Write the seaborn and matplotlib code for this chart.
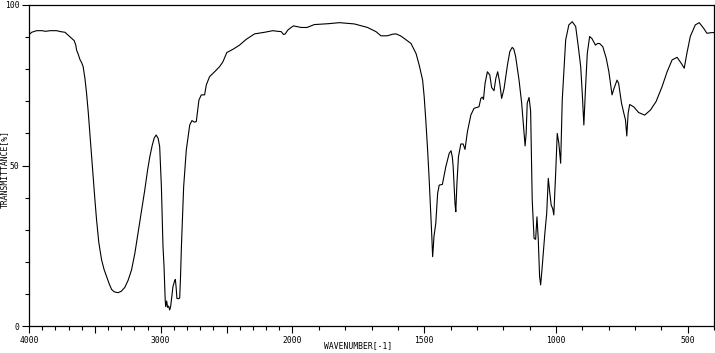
import numpy as np
import pandas as pd
import matplotlib
matplotlib.use("Agg")
import matplotlib.pyplot as plt
import seaborn as sns

# ---- data ----
wavenumber = [
    4000, 3980, 3942, 3900, 3875, 3840, 3790, 3760, 3727, 3689, 3657, 3645, 3639, 3625,
    3614, 3600, 3589, 3575, 3563, 3550, 3538, 3525, 3513, 3500, 3487, 3470, 3449, 3430,
    3411, 3390, 3373, 3355, 3340, 3323, 3300, 3273, 3248,
    3222, 3197, 3172, 3146, 3121, 3100, 3083, 3065, 3050, 3035, 3020, 3008, 2995, 2983, 2975, 2966, 2962, 2955,
    2948, 2940, 2932, 2925, 2907, 2895, 2889, 2883, 2877, 2866, 2856, 2850, 2843, 2826,
    2806, 2780, 2763, 2745, 2730, 2710, 2692, 2667, 2654, 2629, 2591, 2553, 2528, 2498,
    2452, 2402, 2351, 2288, 2212, 2149, 2111, 2085, 2068, 2055, 2035, 2010, 1996, 1967,
    1945, 1917, 1860, 1822, 1765, 1715, 1683, 1664, 1640, 1620, 1607, 1590, 1576, 1550,
    1531, 1519, 1506, 1500, 1494, 1487, 1481, 1475, 1471, 1468, 1465, 1463, 1456, 1449,
    1443, 1431, 1418, 1405, 1398, 1393, 1390, 1383, 1380, 1376, 1370, 1361, 1352, 1345,
    1336, 1323, 1311, 1292, 1285, 1280, 1275, 1269, 1260, 1251, 1244, 1235, 1228, 1221,
    1214, 1206, 1197, 1184, 1175, 1166, 1160, 1153, 1140, 1130, 1124, 1117, 1113, 1109,
    1102, 1096, 1090, 1083, 1077, 1072, 1067, 1062, 1058, 1052, 1042, 1035, 1029, 1024,
    1018, 1012, 1008, 1001, 995, 989, 982, 976, 970, 963, 951, 938, 925, 915, 906, 900,
    894, 888, 881, 872, 863, 850, 842, 834, 822, 809, 799, 793, 787, 780, 768, 762, 751,
    742, 736, 731, 726, 720, 705, 686, 663, 641, 620, 597, 578, 559, 540, 524, 513, 503,
    490, 471, 456, 439, 427, 408, 400,
]
transmittance = [
    90.7, 91.5, 92.0, 92.0, 91.8, 92.0, 92.0, 91.7, 91.5, 90.1, 88.9, 87.5, 86.0, 84.5,
    83.1, 82.0, 80.8, 77.0, 72.5, 66.5, 60.1, 53.2, 46.5, 39.5, 33.0, 26.0, 20.6, 17.6,
    15.4, 13.0, 11.4, 10.7, 10.5, 10.4, 10.8, 12.0, 14.2,
    17.4, 22.5, 28.9, 35.8, 42.4, 48.5, 52.7, 56.2, 58.5, 59.5, 58.5, 55.9, 43.4, 25.0, 18.6, 8.0, 6.0, 7.8,
    5.8, 6.2, 5.0, 6.0, 12.3, 14.0, 14.5, 12.0, 8.6, 8.5, 8.7, 15.0, 24.7, 43.4,
    54.8, 62.6, 64.0, 63.5, 63.7, 70.4, 72.0, 72.0, 75.1, 77.7, 79.2, 80.8, 82.3, 85.2,
    86.2, 87.5, 89.3, 91.0, 91.5, 92.0, 91.8, 91.7, 90.8, 91.0, 92.2, 93.0, 93.5, 93.0,
    93.0, 93.9, 94.2, 94.5, 94.1, 93.0, 91.7, 90.4, 90.4, 90.9, 91.0, 90.4, 89.6, 88.0,
    84.9, 81.3, 76.6, 71.4, 64.2, 54.8, 45.5, 35.1, 27.8, 21.6, 25.0, 27.8, 32.0, 41.3,
    43.9, 44.1, 49.6, 53.8, 54.6, 52.5, 49.6, 38.0, 35.6, 44.0, 52.7, 56.7, 56.7, 55.0,
    60.5, 65.7, 67.8, 68.3, 70.9, 71.3, 70.6, 75.6, 79.2, 78.2, 74.3, 73.3, 77.2, 79.2,
    76.1, 70.9, 73.9, 81.3, 85.5, 86.8, 86.3, 84.0, 76.6, 69.4, 63.1, 56.1, 60.0, 69.4,
    71.2, 67.0, 39.3, 27.3, 27.0, 34.0, 27.0, 15.4, 12.8, 18.5, 28.9, 35.1, 46.0, 42.0,
    37.7, 36.5, 34.6, 47.6, 60.0, 57.0, 50.7, 70.4, 79.2, 89.1, 93.8, 94.8, 93.3, 87.0, 80.8, 72.5,
    62.6, 73.5, 84.9, 90.2, 89.5, 87.5, 88.0, 88.0, 87.0, 83.4, 79.2, 75.6, 72.0, 73.9, 76.6, 75.6, 69.4,
    66.2, 64.2, 59.2, 66.2, 69.0, 68.3, 66.5, 65.7, 67.3, 69.9, 74.6, 79.2, 82.9, 83.7, 81.8, 80.3,
    84.9, 90.2, 93.8, 94.5, 92.7, 91.2, 91.4, 91.4,
]
x_major_ticks = [4000, 3500, 3000, 2500, 2000, 1500, 1000, 500]
x_tick_labels = ["4000", "", "3000", "", "2000", "1500", "1000", "500"]
y_major_ticks = [0, 50, 100]
y_tick_labels = ["0", "50", "100"]
x_title = "WAVENUMBER[-1]"
y_title = "TRANSMITTANCE[%]"

df = pd.DataFrame({"wavenumber": wavenumber, "transmittance": transmittance})

sns.set_style("ticks")
plt.rcParams["font.family"] = ["DejaVu Sans Mono", "DejaVu Sans"]


def fwd(x):
    x = np.asarray(x, dtype=float)
    return np.where(x >= 2000, x, 2 * x - 2000)


def inv(p):
    p = np.asarray(p, dtype=float)
    return np.where(p >= 2000, p, (p + 2000) / 2)


fig = plt.figure(figsize=(7.15, 3.53), dpi=100)
ax = fig.add_axes([29 / 715, 27 / 353, 685 / 715, 321 / 353])

sns.lineplot(data=df, x="wavenumber", y="transmittance", ax=ax, color="black",
             linewidth=0.8, estimator=None, sort=True)

ax.set_xscale("function", functions=(fwd, inv))
ax.set_xlim(4000, 400)
ax.set_ylim(0, 100)

ax.set_xticks(x_major_ticks)
ax.set_xticklabels(x_tick_labels)
ax.set_xticks(list(range(4000, 399, -100)), minor=True)
ax.set_yticks(y_major_ticks)
ax.set_yticklabels(y_tick_labels)
ax.set_yticks(list(range(0, 101, 10)), minor=True)

ax.tick_params(axis="both", which="major", length=5, width=0.8, color="black",
               labelsize=5.8, labelcolor="black", pad=2, direction="out")
ax.tick_params(axis="both", which="minor", length=3, width=0.8, color="black",
               direction="out")

for s in ax.spines.values():
    s.set_visible(True)
    s.set_color("black")
    s.set_linewidth(0.9)

ax.set_xlabel(x_title, fontsize=5.8, color="black")
ax.set_ylabel(y_title, fontsize=5.8, color="black")
ax.xaxis.set_label_coords((358 - 29) / 685, (326 - 341) / 321)
ax.xaxis.label.set_va("top")
ax.yaxis.set_label_coords((4.5 - 29) / 685, (326 - 169) / 321)
ax.yaxis.label.set_va("center")
ax.yaxis.label.set_ha("center")

fig.savefig("out.png", dpi=100, facecolor="white")
